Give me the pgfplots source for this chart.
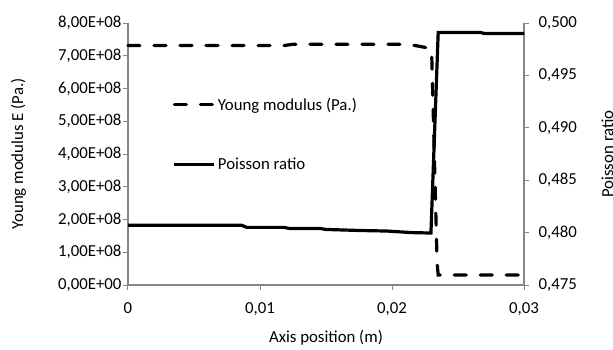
\documentclass[border=0pt]{standalone}
\usepackage{fontspec}
\setmainfont{Carlito}
\usepackage{pgfplots}
\pgfplotsset{compat=1.18}
\definecolor{axgray}{HTML}{868686}
\newcommand{\cfont}{\fontsize{16.8}{20}\selectfont}
\begin{document}
\begin{tikzpicture}
\useasboundingbox (-128pt,-64pt) rectangle (485pt,285pt);
\clip (-128pt,-64pt) rectangle (485pt,285pt);
\pgfplotsset{
  common/.style={
    at={(0pt,0pt)}, anchor=south west,
    scale only axis, width=396pt, height=262pt,
    xmin=0, xmax=0.03,
    tick align=outside, major tick length=5pt,
    every tick/.style={axgray, line width=1pt},
    axis line style={axgray, line width=1.3pt},
    tick label style={font=\cfont, black},
    label style={font=\cfont},
    scaled x ticks=false, scaled y ticks=false,
    clip=false,
  }
}
\begin{axis}[common,
  axis x line*=bottom, axis y line*=left,
  ymin=0, ymax=8e8,
  xtick={0,0.01,0.02,0.03},
  xticklabels={0,{0,01},{0,02},{0,03}},
  xticklabel style={yshift=-9pt},
  ytick={0,1e8,2e8,3e8,4e8,5e8,6e8,7e8,8e8},
  yticklabels={{0,00E+00},{1,00E+08},{2,00E+08},{3,00E+08},{4,00E+08},{5,00E+08},{6,00E+08},{7,00E+08},{8,00E+08}},
  yticklabel style={xshift=2pt},
  xlabel={Axis position (m)},
  ylabel={Young modulus E (Pa.)},
  xlabel style={at={(axis description cs:0.5,-0.221)}, anchor=base},
  ylabel style={at={(axis description cs:-0.305,0.5)}, anchor=north},
]
\addplot[black, line width=3.2pt, line cap=round, dash pattern=on 12pt off 14pt] coordinates {
(0,7.31e8) (0.0118,7.31e8) (0.0125,7.35e8) (0.0205,7.35e8) (0.0215,7.33e8)
(0.0222,7.28e8) (0.0229,7.22e8) (0.0230,7.18e8) (0.02342,6.5e7) (0.0235,3.05e7) (0.03,3.05e7)
};
\end{axis}
\begin{axis}[common,
  axis x line=none, axis y line*=right,
  ymin=0.475, ymax=0.5,
  ytick={0.475,0.48,0.485,0.49,0.495,0.5},
  yticklabels={{0,475},{0,480},{0,485},{0,490},{0,495},{0,500}},
  yticklabel style={xshift=6pt},
  ylabel={Poisson ratio},
  ylabel style={at={(axis description cs:1.187,0.5)}, anchor=north, rotate=0},
  legend image code/.code={\draw[#1] (0pt,0pt) -- (40pt,0pt);},
  legend style={at={(axis description cs:0.105,0.73)}, anchor=north west, draw=none, fill=none,
    font=\cfont, row sep=42pt, cells={anchor=west}},
]
\addlegendimage{black, line width=3.2pt, line cap=round, dash pattern=on 12pt off 14pt}
\addlegendentry{Young modulus (Pa.)}
\addplot[black, line width=3.2pt] coordinates {
(0,0.4807) (0.0086,0.4807) (0.0090,0.4805) (0.0118,0.4805) (0.0122,0.4804) (0.0145,0.4804)
(0.0150,0.4803) (0.0176,0.4802) (0.0196,0.48015) (0.0215,0.4800) (0.02295,0.47996)
(0.0235,0.4991) (0.0267,0.4991) (0.0270,0.4990) (0.03,0.4990)
};
\addlegendentry{Poisson ratio}
\end{axis}
\end{tikzpicture}
\end{document}
